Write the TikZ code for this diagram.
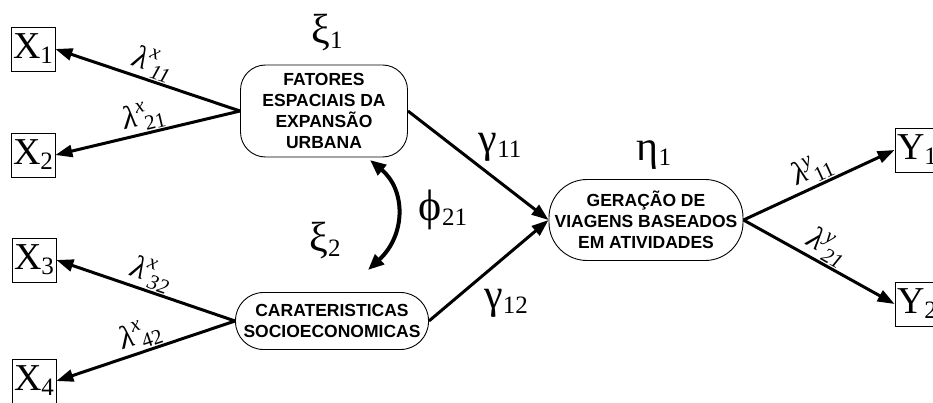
\documentclass[tikz,border=0pt]{standalone}
\usepackage{fontspec}
\setmainfont{Liberation Serif}
\newfontfamily\boxfont{Liberation Sans}
\usetikzlibrary{arrows.meta}
\newcommand{\idx}[1]{\raisebox{-5pt}{\fontsize{25}{25}\selectfont#1}}
\newcommand{\lamx}[2]{\textit{λ}\rlap{\raisebox{13pt}{\fontsize{21}{21}\selectfont\textit{#1}}}\kern6pt\raisebox{-6pt}{\fontsize{21}{21}\selectfont#2}}

\begin{document}
\begin{tikzpicture}[x=1pt,y=-1pt,
    obs/.style={draw,line width=0.8pt,minimum width=44pt,minimum height=44pt,inner sep=0pt,
      font=\fontsize{38}{38}\selectfont},
    latent/.style={draw,line width=0.9pt,rounded corners=#1,align=center,inner sep=0pt,
      font=\boxfont\bfseries\fontsize{17.5}{21}\selectfont},
    greek/.style={inner sep=0pt,font=\fontsize{42}{42}\selectfont},
    lab/.style={inner sep=1pt,font=\fontsize{32}{32}\selectfont},
    arr/.style={line width=3pt,-{Triangle[length=17pt,width=12pt]}}]
  \useasboundingbox (0,0) rectangle (933,403);
  \node[obs] (x1) at (33,49) {X\idx{1}};
  \node[obs] (x2) at (33,155) {X\idx{2}};
  \node[obs] (x3) at (34,260) {X\idx{3}};
  \node[obs] (x4) at (34,381) {X\idx{4}};
  \node[obs] (y1) at (917,150) {Y\idx{1}};
  \node[obs] (y2) at (917,304) {Y\idx{2}};
  \node[latent=25,minimum width=167pt,minimum height=92pt] (fat) at (324,111)
    {FATORES\\ESPACIAIS DA\\EXPANSÃO\\URBANA};
  \node[latent=28,minimum width=193pt,minimum height=57pt] (soc) at (332,321)
    {CARATERISTICAS\\SOCIOECONOMICAS};
  \node[latent=38,minimum width=194pt,minimum height=81pt] (ger) at (646,220)
    {GERAÇÃO DE\\VIAGENS BASEADOS\\EM ATIVIDADES};
  \node[greek] (xi1) at (327,33) {ξ\idx{1}};
  \node[greek] (xi2) at (325,241) {ξ\idx{2}};
  \node[greek] (eta1) at (654,155) {η\idx{1}};
  \node[greek] (gam11) at (500,147) {γ\idx{11}};
  \node[greek] (gam12) at (506,303) {γ\idx{12}};
  \node[greek,font=\fontsize{44}{44}\selectfont] (phi21) at (443,210) {ϕ\idx{21}};
  \draw[arr] (fat.west) -- node[lab,sloped,above] (l11) {\lamx{x}{\textit{11}}} (x1.east);
  \draw[arr] (fat.west) -- node[lab,sloped,above] (l21) {\lamx{x}{21}} (x2.east);
  \draw[arr] (soc.west) -- node[lab,sloped,above] (l32) {\lamx{x}{\textit{32}}} (x3.east);
  \draw[arr] (soc.west) -- node[lab,sloped,above] (l42) {\lamx{x}{42}} (x4.east);
  \draw[arr] (ger.east) -- node[lab,sloped,above] (m11) {\lamx{y}{11}} (y1.west);
  \draw[arr] (ger.east) -- node[lab,sloped,above] (m21) {\lamx{y}{\textit{21}}} (y2.west);
  \draw[arr] (fat.east) -- (ger.west);
  \draw[arr] (soc.east) -- (ger.west);
  \coordinate (phitop) at (370,160);
  \coordinate (phibot) at (368,270);
  \draw[line width=4pt,{Triangle[length=16pt,width=13pt]}-{Triangle[length=16pt,width=13pt]}]
    (phitop) .. controls (406,190) and (406,235) .. (phibot);
\end{tikzpicture}
\end{document}
